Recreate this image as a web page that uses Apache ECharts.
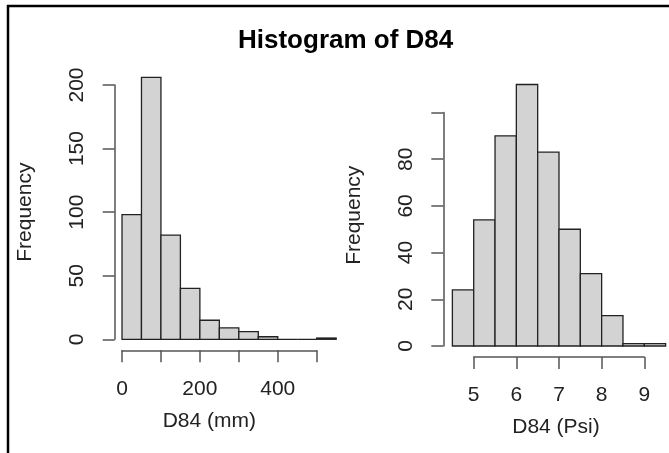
<!DOCTYPE html>
<html>
<head>
<meta charset="utf-8">
<script src="https://cdn.jsdelivr.net/npm/echarts@6/dist/echarts.min.js"></script>
<style>
  html, body { margin: 0; padding: 0; background: #fff; }
  #chart { width: 669px; height: 453px; }
</style>
</head>
<body>
<div id="chart"></div>
<script>
// histogram bins, D84 in mm
var mmBreaks = [0, 50, 100, 150, 200, 250, 300, 350, 400, 450, 500, 550];
var mmCounts = [98, 206, 82, 40, 15, 9, 6, 2, 0, 0, 1];
var mmXTicks = [0, 100, 200, 300, 400, 500];
var mmXLabels = ['0', '', '200', '', '400', ''];
var mmYTicks = [0, 50, 100, 150, 200];
var mmYLabels = ['0', '50', '100', '150', '200'];

// histogram bins, D84 in Psi
var psiBreaks = [4.5, 5, 5.5, 6, 6.5, 7, 7.5, 8, 8.5, 9, 9.5];
var psiCounts = [24, 54, 90, 112, 83, 50, 31, 13, 1, 1];
var psiXTicks = [5, 6, 7, 8, 9];
var psiXLabels = ['5', '6', '7', '8', '9'];
var psiYTicks = [0, 20, 40, 60, 80, 100];
var psiYLabels = ['0', '20', '40', '60', '80', ''];

var FONT = 'Liberation Sans, Arial, sans-serif';

function binData(breaks, counts) {
  var out = [];
  for (var i = 0; i < counts.length; i++) {
    out.push([breaks[i], breaks[i + 1], counts[i]]);
  }
  return out;
}

function labelFn(ticks, labels) {
  return function (v) {
    var i = ticks.indexOf(v);
    return i < 0 ? '' : labels[i];
  };
}

function renderBin(params, api) {
  var p0 = api.coord([api.value(0), api.value(2)]);
  var p1 = api.coord([api.value(1), 0]);
  return {
    type: 'rect',
    shape: { x: p0[0], y: p0[1], width: p1[0] - p0[0], height: p1[1] - p0[1] },
    style: { fill: '#d3d3d3', stroke: '#222', lineWidth: 1.3 }
  };
}

function xAxisOpt(idx, ticks, labels, name, namePad) {
  return {
    type: 'value', gridIndex: idx,
    min: ticks[0], max: ticks[ticks.length - 1], interval: ticks[1] - ticks[0],
    offset: 11,
    axisLine: { show: true, onZero: false, lineStyle: { color: '#555', width: 1.5 } },
    axisTick: { show: true, length: 12, lineStyle: { color: '#555', width: 1.5 } },
    axisLabel: { margin: 28, fontSize: 21, color: '#222', fontFamily: FONT, formatter: labelFn(ticks, labels) },
    splitLine: { show: false },
    name: name, nameLocation: 'middle', nameGap: 60,
    nameTextStyle: { fontSize: 21, color: '#222', fontFamily: FONT, padding: namePad }
  };
}

function yAxisOpt(idx, ticks, labels, offset, namePad) {
  return {
    type: 'value', gridIndex: idx,
    min: ticks[0], max: ticks[ticks.length - 1], interval: ticks[1] - ticks[0],
    offset: offset,
    axisLine: { show: true, onZero: false, lineStyle: { color: '#555', width: 1.5 } },
    axisTick: { show: true, length: 12, lineStyle: { color: '#555', width: 1.5 } },
    axisLabel: { rotate: 90, margin: 27, fontSize: 21, color: '#222', fontFamily: FONT, formatter: labelFn(ticks, labels) },
    splitLine: { show: false },
    name: 'Frequency', nameLocation: 'middle', nameGap: 79,
    nameTextStyle: { fontSize: 21, color: '#222', fontFamily: FONT, padding: namePad }
  };
}

var chart = echarts.init(document.getElementById('chart'));
chart.setOption({
  backgroundColor: '#fff',
  animation: false,
  title: {
    text: 'Histogram of D84', left: 233, top: 23,
    textStyle: { fontSize: 26, fontWeight: 'bold', color: '#000', fontFamily: FONT }
  },
  graphic: [
    { type: 'line', shape: { x1: 8, y1: 5, x2: 8, y2: 453 }, style: { stroke: '#000', lineWidth: 2.5 } },
    { type: 'line', shape: { x1: 7, y1: 6, x2: 669, y2: 6 }, style: { stroke: '#000', lineWidth: 2.5 } }
  ],
  grid: [
    { left: 122, top: 85, width: 194.7, height: 254.3 },
    { left: 473.7, top: 112.5, width: 170.6, height: 233.5 }
  ],
  xAxis: [
    xAxisOpt(0, mmXTicks, mmXLabels, 'D84 (mm)', [0, 20, 0, 0]),
    xAxisOpt(1, psiXTicks, psiXLabels, 'D84 (Psi)', [0, 6, 0, 0])
  ],
  yAxis: [
    yAxisOpt(0, mmYTicks, mmYLabels, 7.3, [0, 0, 0, 0]),
    yAxisOpt(1, psiYTicks, psiYLabels, 30.4, [0, 0, 0, 28])
  ],
  series: [
    {
      type: 'custom', xAxisIndex: 0, yAxisIndex: 0, clip: false,
      renderItem: renderBin, encode: { x: [0, 1], y: 2 },
      data: binData(mmBreaks, mmCounts)
    },
    {
      type: 'custom', xAxisIndex: 1, yAxisIndex: 1, clip: false,
      renderItem: renderBin, encode: { x: [0, 1], y: 2 },
      data: binData(psiBreaks, psiCounts)
    }
  ]
});
</script>
</body>
</html>
